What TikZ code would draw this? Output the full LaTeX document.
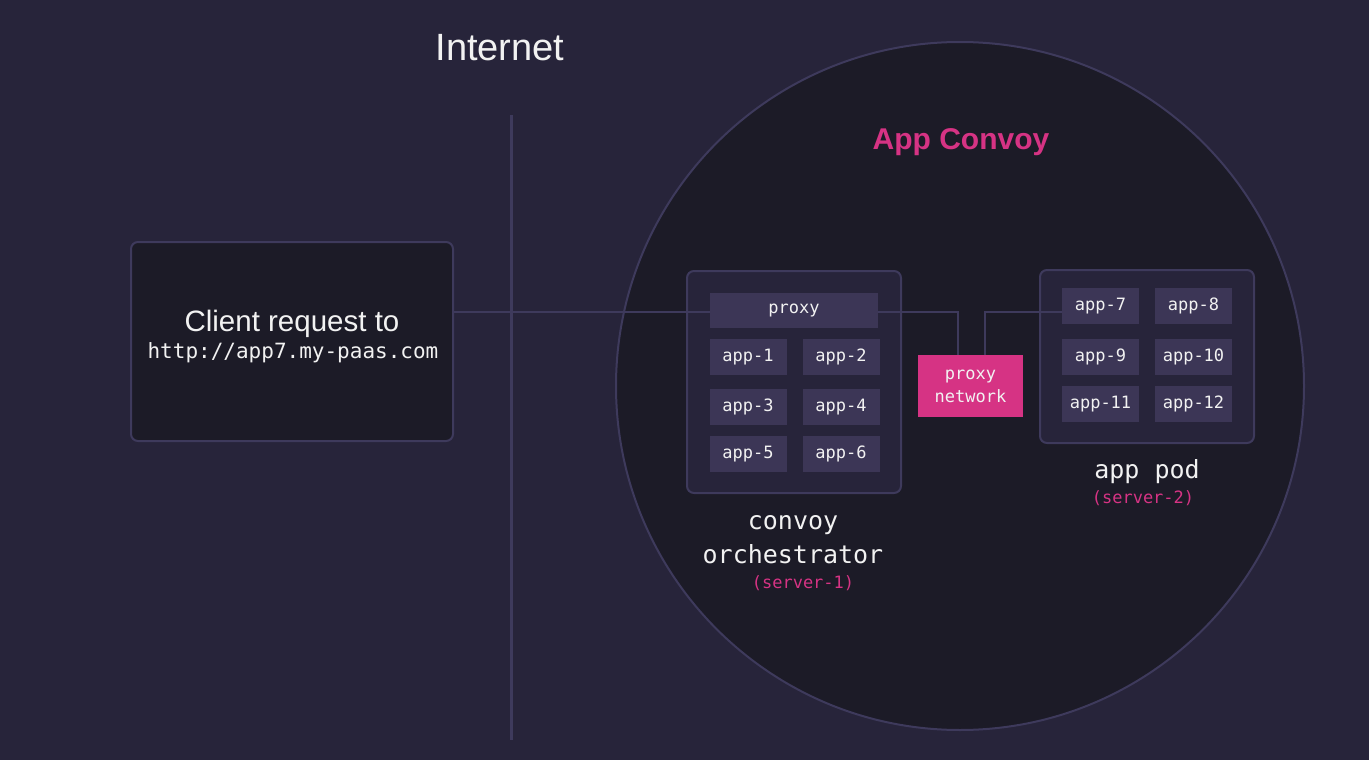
\documentclass[tikz,border=0pt]{standalone}
\usepackage{fontspec}
\setmainfont{Liberation Sans}
\newfontfamily\monof{DejaVu Sans Mono}
\definecolor{bgc}{HTML}{27243A}
\definecolor{darkc}{HTML}{1C1B27}
\definecolor{edgec}{HTML}{3E3A5C}
\definecolor{appc}{HTML}{3C3656}
\definecolor{pinkc}{HTML}{D63384}
\definecolor{txtc}{HTML}{F2F2F2}
\tikzset{
  every node/.style={inner sep=0pt, outer sep=0pt},
  wire/.style={draw=edgec, line width=2pt},
  appbox/.style={fill=appc, minimum width=77pt, minimum height=36pt, text=txtc, font=\monof\fontsize{17}{18}\selectfont},
  groupbox/.style={draw=edgec, line width=2pt, rounded corners=7pt},
  monolbl/.style={text=txtc, anchor=base, font=\monof\fontsize{25}{30}\selectfont},
  serverlbl/.style={text=pinkc, anchor=base, font=\monof\fontsize{17}{18}\selectfont},
}
\begin{document}
\begin{tikzpicture}[x=1pt,y=-1pt]
\fill[bgc] (0,0) rectangle (1369,760);
\useasboundingbox (0,0) rectangle (1369,760);
% circle
\node[circle, draw=edgec, line width=2pt, fill=darkc, minimum size=688pt] (convoy) at (960,386) {};
% internet line
\coordinate (itop) at (511,115);
\coordinate (ibot) at (511,740);
\draw[draw=edgec, line width=3pt] (itop) -- (ibot);
\node[text=txtc, anchor=base, font=\fontsize{38}{40}\selectfont] (internet) at (500,61) {Internet};
\node[text=pinkc, anchor=base, font=\bfseries\fontsize{30}{36}\selectfont] (title) at (961,149) {App Convoy};
% client
\node[groupbox, fill=darkc, minimum width=322pt, minimum height=199pt] (client) at (292,341.5) {};
\node[text=txtc, anchor=base, font=\fontsize{29.5}{32}\selectfont] (clienttxt) at (292,331) {Client request to};
\node[text=txtc, anchor=base, font=\monof\fontsize{21}{24}\selectfont] (url) at (293,358) {http://app7.my-paas.com};
% orchestrator
\node[groupbox, fill=bgc, minimum width=214pt, minimum height=222pt] (orch) at (794,382) {};
\node[appbox, minimum width=168pt, minimum height=35pt] (proxy) at (794,310.5) {proxy};
\node[appbox] (a1) at (748,357) {app-1};
\node[appbox] (a2) at (841,357) {app-2};
\node[appbox] (a3) at (748,407) {app-3};
\node[appbox] (a4) at (841,407) {app-4};
\node[appbox] (a5) at (748,454) {app-5};
\node[appbox] (a6) at (841,454) {app-6};
\node[monolbl] (l1) at (793,529) {convoy};
\node[monolbl] (l2) at (793,563) {orchestrator};
\node[serverlbl] (s1) at (803,588) {(server-1)};
% app pod
\node[groupbox, fill=bgc, minimum width=214pt, minimum height=173pt] (pod) at (1147,356.5) {};
\node[appbox] (a7) at (1100.5,306) {app-7};
\node[appbox] (a8) at (1193.5,306) {app-8};
\node[appbox] (a9) at (1100.5,357) {app-9};
\node[appbox] (a10) at (1193.5,357) {app-10};
\node[appbox] (a11) at (1100.5,404) {app-11};
\node[appbox] (a12) at (1193.5,404) {app-12};
\node[monolbl] (l3) at (1147,478) {app pod};
\node[serverlbl] (s2) at (1143,503) {(server-2)};
% proxy network
\node[fill=pinkc, minimum width=105pt, minimum height=62pt, text=txtc, align=center, font=\monof\fontsize{17}{23}\selectfont] (pn) at (970.5,386) {proxy\\network};
% connectors
\coordinate (pin) at ([yshift=-1.5pt]proxy.west);
\coordinate (pout) at ([yshift=-1.5pt]proxy.east);
\coordinate (a7in) at ([yshift=-6pt]a7.west);
\draw[wire] (client.east |- pin) -- (pin);
\draw[wire] (pout) -| ([xshift=-12.5pt]pn.north);
\draw[wire] ([xshift=14.5pt]pn.north) |- (a7in);
\end{tikzpicture}
\end{document}
